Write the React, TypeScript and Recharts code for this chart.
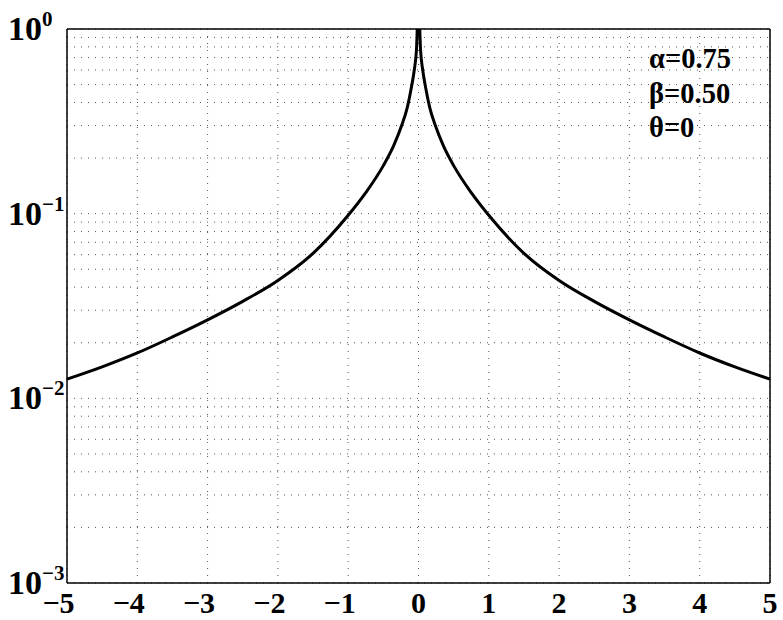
import React from "react";
import {
  LineChart,
  Line,
  XAxis,
  YAxis,
  CartesianGrid,
  ReferenceLine,
  Customized,
} from "recharts";

// stable density, alpha=0.75 beta=0.5, sampled on a log scale
const xValues = [
  -5, -4.5, -4, -3.5, -3, -2.5, -2, -1.5, -1, -0.75, -0.5, -0.35, -0.24, -0.16,
  -0.1, -0.06, -0.03, 0, 0.03, 0.06, 0.1, 0.16, 0.24, 0.35, 0.5, 0.75, 1, 1.5,
  2, 2.5, 3, 3.5, 4, 4.5, 5,
];
const density = [
  0.0127, 0.0148, 0.0176, 0.0215, 0.0266, 0.0335, 0.0435, 0.061, 0.098, 0.13,
  0.182, 0.235, 0.3, 0.375, 0.485, 0.6, 0.76, 1.4, 0.76, 0.6, 0.485, 0.375, 0.3,
  0.235, 0.182, 0.13, 0.098, 0.061, 0.0435, 0.0335, 0.0266, 0.0215, 0.0176,
  0.0148, 0.0127,
];

const xTicks = [-5, -4, -3, -2, -1, 0, 1, 2, 3, 4, 5];
const yDecades = [0.001, 0.01, 0.1, 1];
const yMinor = [2, 3, 4, 5, 6, 7, 8, 9];
const yTicks = [
  ...yDecades.slice(0, 3).flatMap((d) => [d, ...yMinor.map((m) => d * m)]),
  1,
];

const params = ["α=0.75", "β=0.50", "θ=0"];

const data = xValues.map((x, i) => ({ x, y: density[i] }));

const FONT = "'Liberation Serif', 'Times New Roman', serif";

const YTick = (props: any) => {
  const { x, y, payload } = props;
  const v = payload.value as number;
  const exp = Math.round(Math.log10(v));
  if (Math.abs(Math.log10(v) - exp) > 1e-6) return null;
  const expText = exp < 0 ? "\u2212" + Math.abs(exp) : String(exp);
  return (
    <g fontFamily={FONT} fontWeight="bold" fill="#000">
      <text x={x - 25} y={y + 11} textAnchor="end" fontSize={34}>
        10
      </text>
      <text x={x - 25} y={y - 3} textAnchor="start" fontSize={21}>
        {expText}
      </text>
    </g>
  );
};

const XTick = (props: any) => {
  const { x, y, payload } = props;
  const v = payload.value as number;
  return (
    <g fontFamily={FONT} fontWeight="bold" fill="#000" fontSize={30}>
      <text x={x} y={y + 30} textAnchor="middle">
        {Math.abs(v)}
      </text>
      {v < 0 && (
        <text x={x - 7.5} y={y + 30} textAnchor="end">
          {"\u2212"}
        </text>
      )}
    </g>
  );
};

const ParamText = () => (
  <g fontFamily={FONT} fontWeight="bold" fill="#000" fontSize={28.5}>
    {params.map((p, i) => (
      <text key={p} x={649} y={68 + i * 34.5}>
        {p}
      </text>
    ))}
  </g>
);

export default function App() {
  return (
    <div style={{ position: "absolute", left: 0, top: 0, background: "#fff" }}>
      <LineChart
        width={783}
        height={620}
        data={data}
        margin={{ top: 29, right: 13, bottom: 0, left: 0 }}
      >
        <CartesianGrid stroke="#555" strokeDasharray="1 6" strokeWidth={1} />
        <XAxis
          dataKey="x"
          type="number"
          domain={[-5, 5]}
          ticks={xTicks}
          height={37}
          tickSize={0}
          tickMargin={0}
          axisLine={{ stroke: "#000", strokeWidth: 1.5 }}
          tickLine={false}
          tick={<XTick />}
          interval={0}
        />
        <YAxis
          type="number"
          scale="log"
          domain={[0.001, 1]}
          allowDataOverflow
          ticks={yTicks}
          width={67}
          tickSize={0}
          tickMargin={0}
          axisLine={{ stroke: "#000", strokeWidth: 1.5 }}
          tickLine={false}
          tick={<YTick />}
          interval={0}
        />
        <ReferenceLine y={1} stroke="#000" strokeWidth={1.5} />
        <ReferenceLine x={5} stroke="#000" strokeWidth={1.5} />
        <Line
          type="monotone"
          dataKey="y"
          stroke="#000"
          strokeWidth={3}
          dot={false}
          isAnimationActive={false}
        />
        <Customized component={ParamText} />
      </LineChart>
    </div>
  );
}
